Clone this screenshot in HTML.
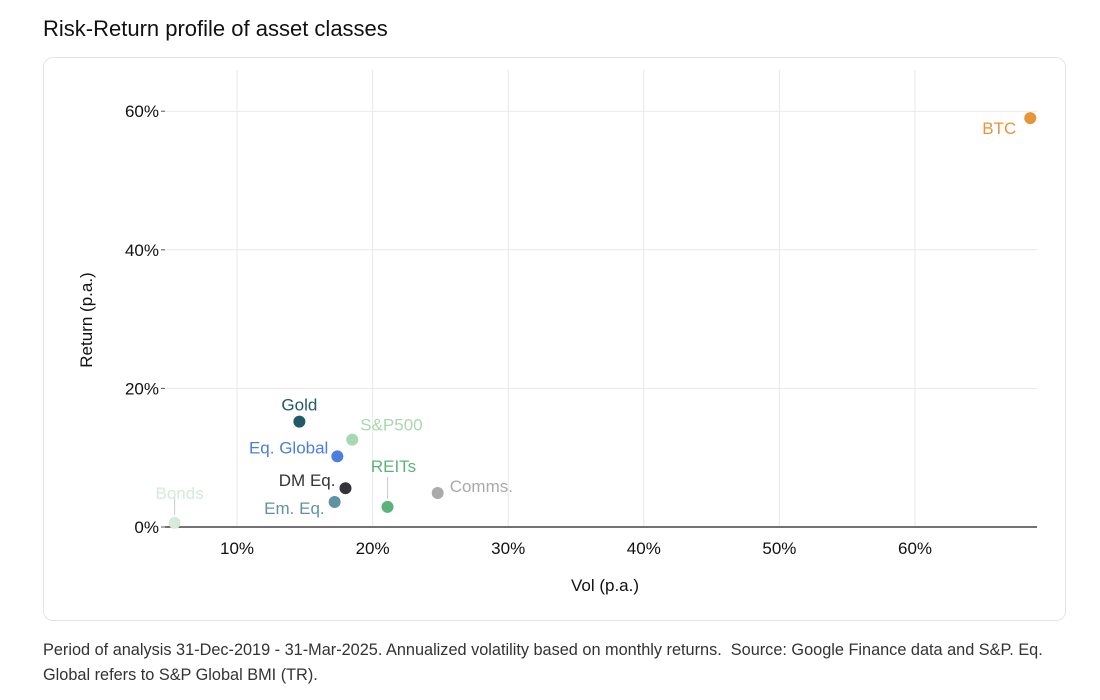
<!DOCTYPE html>
<html><head><meta charset="utf-8"><style>
body{margin:0;width:1100px;height:700px;background:#fff;font-family:"Liberation Sans",sans-serif;position:relative;overflow:hidden}
.title{position:absolute;left:43px;top:16px;font-size:22px;color:#111}
.card{position:absolute;left:43px;top:57px;width:1021px;height:562px;border:1px solid #e4e4e4;border-radius:10px}
.foot{position:absolute;left:43px;top:638px;font-size:16.3px;color:#333;line-height:25px;width:1015px}
</style></head><body>
<div class="title">Risk-Return profile of asset classes</div>
<div class="card"></div>
<svg id="chart" width="1100" height="700" style="position:absolute;left:0;top:0"></svg>
<div class="foot">Period of analysis 31-Dec-2019 - 31-Mar-2025. Annualized volatility based on monthly returns.&nbsp; Source: Google Finance data and S&amp;P. Eq. Global refers to S&amp;P Global BMI (TR).</div>
<script>
const names=["BTC","Gold","S&P500","Eq. Global","DM Eq.","Em. Eq.","REITs","Comms.","Bonds"];
const vols=[68.5,14.6,18.5,17.4,18.0,17.2,21.1,24.8,5.4];
const rets=[59.0,15.2,12.6,10.2,5.6,3.6,2.9,4.9,0.6];
const colors=["#e8943a","#1f5a66","#a8d8b0","#4a7fe0","#333338","#5f93a3","#5cb37a","#aaaaaa","#d6eadb"];
const xTicks=[10,20,30,40,50,60];
const yTicks=[0,20,40,60];
const NS="http://www.w3.org/2000/svg";
const svg=document.getElementById('chart');
const X=v=>101.4+v*13.56, Y=v=>527-v*6.93;
function mk(t,a){const e=document.createElementNS(NS,t);for(const k in a)e.setAttribute(k,a[k]);svg.appendChild(e);return e;}
yTicks.forEach(t=>{if(t>0){const l=mk('line',{x1:165,x2:1037,y1:Y(t),y2:Y(t),stroke:'#e8e8e8'});}
 const k=mk('line',{x1:161,x2:165,y1:Y(t),y2:Y(t),stroke:'#555'});
 const tx=mk('text',{x:159,y:Y(t)+6,'text-anchor':'end','font-size':17,fill:'#111'});tx.textContent=t+'%';});
xTicks.forEach(t=>{const l=mk('line',{x1:X(t),x2:X(t),y1:70,y2:527,stroke:'#e8e8e8'});
 const tx=mk('text',{x:X(t),y:554,'text-anchor':'middle','font-size':17,fill:'#111'});tx.textContent=t+'%';});
const ax=mk('line',{x1:165,x2:1037,y1:527,y2:527,stroke:'#444','stroke-width':1.5});
const xt=mk('text',{x:605,y:591,'text-anchor':'middle','font-size':17,fill:'#111'});xt.textContent='Vol (p.a.)';
const yt=mk('text',{x:0,y:0,'text-anchor':'middle','font-size':17,fill:'#111',transform:'translate(92,320) rotate(-90)'});yt.textContent='Return (p.a.)';
const offs=[[-14,16,'end',0],[0,-11,'middle',0],[8,-9,'start',0],[-9,-3,'end',0],[-10,-2,'end',0],[-10,12,'end',0],[6,-35,'middle',1],[12,-1,'start',0],[5,-24,'middle',1]];
names.forEach((n,i)=>{const cx=X(vols[i]),cy=Y(rets[i]),o=offs[i];
 if(o[3]){const l=mk('line',{x1:cx,x2:cx,y1:cy-8,y2:cy-30,stroke:'#ccc'});}
 const c=mk('circle',{cx:cx,cy:cy,r:6,fill:colors[i]});
 const t=mk('text',{x:cx+o[0],y:cy+o[1],'text-anchor':o[2],'font-size':17,fill:colors[i]});t.textContent=n;});
</script>
</body></html>
